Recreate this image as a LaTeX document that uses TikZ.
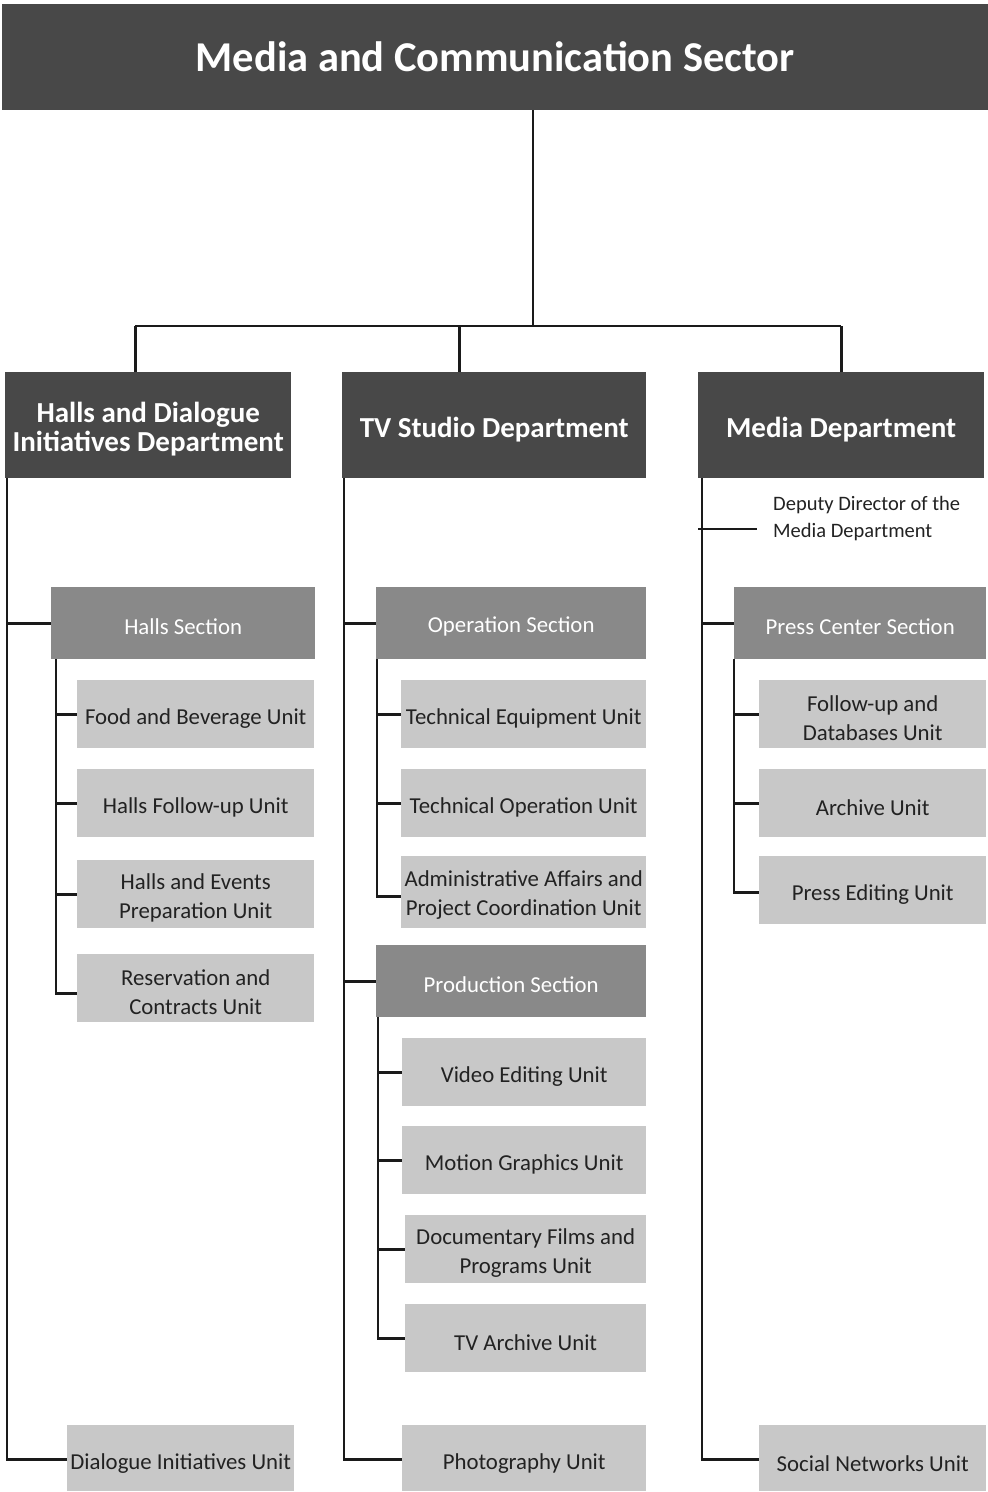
\documentclass[tikz,border=0pt]{standalone}
\usepackage{fontspec}
\setmainfont{Carlito}
\definecolor{dark}{HTML}{484848}
\definecolor{sect}{HTML}{898989}
\definecolor{unitc}{HTML}{C8C8C8}
\definecolor{ink}{HTML}{222222}
\definecolor{wire}{HTML}{1A1A1A}
% #1 style, #2 name, #3 x, #4 y, #5 width, #6 height, #7 text shift down, #8 text
\newcommand\orgbox[8]{%
  \node[#1, minimum width=#5pt, minimum height=#6pt] (#2) at (#3,#4) {};
  \node[#1text] at ([yshift=-#7pt]#2.center) {#8};}
\begin{document}
\begin{tikzpicture}[x=1pt,y=-1pt,
  box/.style={anchor=north west, inner sep=0pt},
  txt/.style={inner sep=0pt, align=center},
  topbox/.style={box, fill=dark},
  topboxtext/.style={txt, text=white, font=\fontsize{42.5}{48}\selectfont\bfseries},
  deptbox/.style={box, fill=dark},
  deptboxtext/.style={txt, text=white, font=\fontsize{29}{29}\selectfont\bfseries},
  sectbox/.style={box, fill=sect},
  sectboxtext/.style={txt, text=white, font=\fontsize{22.8}{29}\selectfont},
  unitbox/.style={box, fill=unitc},
  unitboxtext/.style={txt, text=ink, font=\fontsize{22.8}{29}\selectfont},
  plain/.style={anchor=west, inner sep=0pt, align=left, text=ink, font=\fontsize{20.5}{27}\selectfont},
  wires/.style={draw=wire, line width=2.8pt}]
\useasboundingbox (0,0) rectangle (988,1492);
% top
\orgbox{topbox}{top}{2}{4}{986}{106}{0}{Media and Communication Sector}
% departments
\orgbox{deptbox}{hd}{5}{372}{286}{106}{4}{Halls and Dialogue\\Initiatives Department}
\orgbox{deptbox}{tv}{342}{372}{304}{106}{4}{TV Studio Department}
\orgbox{deptbox}{md}{698}{372}{286}{106}{4}{Media Department}
% top connectors
\coordinate (bar) at (533,326);
\draw[wires] (top.south -| bar) -- (bar);
\coordinate (hbar) at ([xshift=-13pt]hd.north |- bar);
\coordinate (mbar) at (md.north |- bar);
\coordinate (tbar) at ([xshift=-35pt]tv.north |- bar);
\draw[wires] (hbar) -- (mbar);
\draw[wires] (hbar) -- (hbar |- hd.north);
\draw[wires] (tbar) -- (tbar |- tv.north);
\draw[wires] (mbar) -- (mbar |- md.north);
% ---------- Halls department ----------
\orgbox{sectbox}{hs}{51}{587}{264}{72}{3}{Halls Section}
\orgbox{unitbox}{fb}{77}{680}{237}{68}{4}{Food and Beverage Unit}
\orgbox{unitbox}{hf}{77}{769}{237}{68}{4}{Halls Follow-up Unit}
\orgbox{unitbox}{he}{77}{860}{237}{68}{4}{Halls and Events\\Preparation Unit}
\orgbox{unitbox}{rc}{77}{954}{237}{68}{4}{Reservation and\\Contracts Unit}
\orgbox{unitbox}{di}{67}{1425}{227}{66}{5}{Dialogue Initiatives Unit}
\coordinate (ht) at ([xshift=2pt]hd.south west);
\draw[wires] (ht) |- ([yshift=-1pt]di.west);
\draw[wires] (ht |- hs.west) -- (hs.west);
\coordinate (hst) at ([xshift=5pt]hs.south west);
\draw[wires] (hst) |- ([yshift=-5pt]rc.west);
\draw[wires] (hst |- fb.west) -- (fb.west);
\draw[wires] (hst |- hf.west) -- (hf.west);
\draw[wires] (hst |- he.west) -- (he.west);
% ---------- TV Studio department ----------
\orgbox{sectbox}{os}{376}{587}{270}{72}{3}{Operation Section}
\orgbox{unitbox}{te}{401}{680}{245}{68}{4}{Technical Equipment Unit}
\orgbox{unitbox}{to}{401}{769}{245}{68}{4}{Technical Operation Unit}
\orgbox{unitbox}{aa}{401}{856}{245}{72}{3}{Administrative Affairs and\\Project Coordination Unit}
\orgbox{sectbox}{ps}{376}{945}{270}{72}{3}{Production Section}
\orgbox{unitbox}{ve}{402}{1038}{244}{68}{4}{Video Editing Unit}
\orgbox{unitbox}{mg}{402}{1126}{244}{68}{4}{Motion Graphics Unit}
\orgbox{unitbox}{df}{405}{1215}{241}{68}{4}{Documentary Films and\\Programs Unit}
\orgbox{unitbox}{ta}{405}{1304}{241}{68}{4}{TV Archive Unit}
\orgbox{unitbox}{ph}{402}{1425}{244}{66}{5}{Photography Unit}
\coordinate (tt) at ([xshift=2pt]tv.south west);
\draw[wires] (tt) |- ([yshift=-1pt]ph.west);
\draw[wires] (tt |- os.west) -- (os.west);
\draw[wires] (tt |- ps.west) -- (ps.west);
\coordinate (ost) at ([xshift=1pt]os.south west);
\draw[wires] (ost) |- ([yshift=-4pt]aa.west);
\draw[wires] (ost |- te.west) -- (te.west);
\draw[wires] (ost |- to.west) -- (to.west);
\coordinate (pst) at ([xshift=2pt]ps.south west);
\draw[wires] (pst) |- (ta.west);
\draw[wires] (pst |- ve.west) -- (ve.west);
\draw[wires] (pst |- mg.west) -- (mg.west);
\draw[wires] (pst |- df.west) -- (df.west);
% ---------- Media department ----------
\node[plain] (dd) at (773,519) {Deputy Director of the\\Media Department};
\orgbox{sectbox}{pc}{734}{587}{252}{72}{3}{Press Center Section}
\orgbox{unitbox}{fd}{759}{680}{227}{68}{4}{Follow-up and\\Databases Unit}
\orgbox{unitbox}{ar}{759}{769}{227}{68}{4}{Archive Unit}
\orgbox{unitbox}{pe}{759}{856}{227}{68}{4}{Press Editing Unit}
\orgbox{unitbox}{sn}{759}{1425}{227}{66}{5}{Social Networks Unit}
\coordinate (mt) at ([xshift=4pt]md.south west);
\draw[wires] (mt) |- ([yshift=-1pt]sn.west);
\draw[wires] (mt |- pc.west) -- (pc.west);
\coordinate (ddl) at ([xshift=-16pt]dd.west |- 0,529);
\draw[wires] (md.south west |- ddl) -- (ddl);
\coordinate (pct) at (pc.south west);
\draw[wires] (pct) |- ([yshift=-2pt]pe.west);
\draw[wires] (pct |- fd.west) -- (fd.west);
\draw[wires] (pct |- ar.west) -- (ar.west);
\end{tikzpicture}
\end{document}
